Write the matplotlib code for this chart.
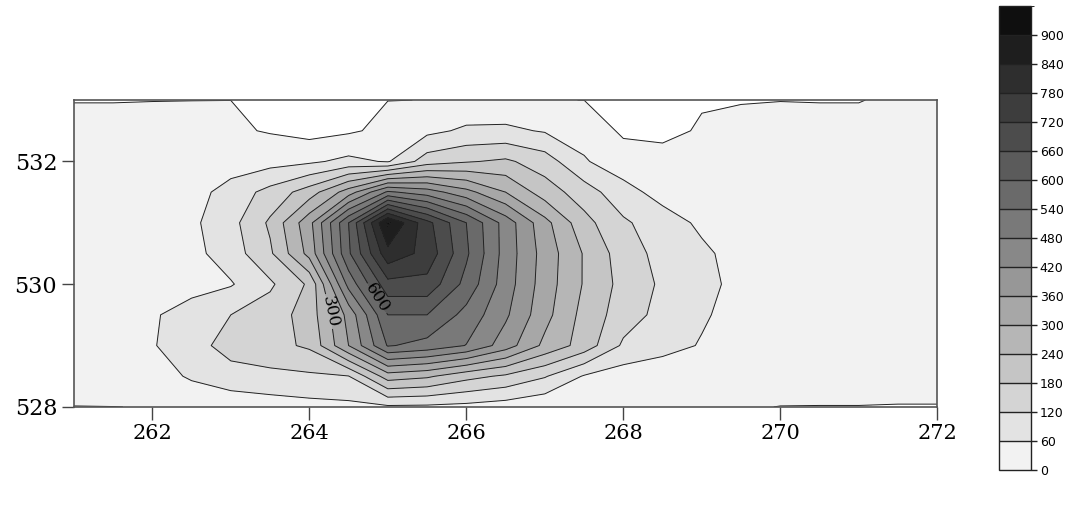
import numpy as np
import matplotlib
matplotlib.use('Agg')
import matplotlib.pyplot as plt
from matplotlib.colors import ListedColormap, BoundaryNorm

# grid (x step 0.5, y step 0.5)
x_vals = [261, 261.5, 262, 262.5, 263, 263.5, 264, 264.5, 265, 265.5, 266, 266.5,
          267, 267.5, 268, 268.5, 269, 269.5, 270, 270.5, 271, 271.5, 272]
y_vals = [528, 528.5, 529, 529.5, 530, 530.5, 531, 531.5, 532, 532.5, 533]

row_528_0 = [-0.1, -0.1, 0.3, 1, 15, 30, 40, 45, 50, 48, 42, 30, 12, 6, 3, 2, 1, 0.5, -0.1, -0.1, -0.1, -0.1, -0.1]
row_528_5 = [3, 8, 25, 70, 100, 105, 110, 118, 270, 250, 200, 170, 125, 55, 30, 15, 8, 5, 3, 2, 2, 1, 1]
row_529_0 = [4, 12, 55, 100, 140, 160, 190, 360, 545, 520, 478, 390, 285, 215, 110, 85, 55, 30, 15, 8, 5, 3, 2]
row_529_5 = [5, 15, 52, 90, 120, 150, 205, 380, 600, 600, 520, 430, 320, 220, 150, 100, 68, 35, 18, 10, 5, 3, 2]
row_530_0 = [3, 6, 14, 35, 55, 110, 190, 500, 700, 700, 580, 450, 330, 235, 160, 110, 75, 45, 22, 12, 6, 4, 2]
row_530_5 = [4, 8, 18, 42, 90, 170, 320, 590, 820, 760, 610, 455, 335, 235, 150, 100, 70, 40, 20, 10, 6, 4, 2]
row_531_0 = [4, 8, 20, 48, 100, 190, 340, 600, 910, 740, 600, 455, 320, 200, 130, 85, 50, 28, 14, 8, 5, 3, 2]
row_531_5 = [3, 6, 12, 35, 85, 140, 210, 330, 490, 450, 380, 300, 210, 150, 80, 40, 25, 12, 6, 4, 3, 2, 1]
row_532_0 = [2, 3, 6, 15, 28, 38, 50, 75, 55, 150, 175, 190, 150, 65, 30, 15, 10, 5, 3, 2, 2, 1, 1]
row_532_5 = [1, 1, 2, 4, 8, -4, -20, -8, 15, 45, 70, 72, 55, 40, -10, -10, 4, 3, 2, 1, 1, 1, 1]
row_533_0 = [-0.1, -0.1, -0.1, -0.1, -0.1, -30, -40, -30, -0.5, 0.3, 15, 15, 0.5, -0.1, -25, -25, -3, -0.5, -0.1, -0.1, -0.1, 0.5, 0.5]

x_ticks = [262, 264, 266, 268, 270, 272]
y_ticks = [528, 530, 532]
levels = list(range(0, 961, 60))
label_levels = [300, 600]
label_spots = [(264.24, 529.55), (264.9, 529.8)]

Z = np.array([row_528_0, row_528_5, row_529_0, row_529_5, row_530_0, row_530_5,
              row_531_0, row_531_5, row_532_0, row_532_5, row_533_0])
X, Y = np.meshgrid(x_vals, y_vals)

greys = np.linspace(0.95, 0.06, len(levels) - 1)
cmap = ListedColormap([(g, g, g) for g in greys])
norm = BoundaryNorm(levels, cmap.N)

fig = plt.figure(figsize=(10.70, 5.08), dpi=100)
ax = fig.add_axes([0.069, 0.199, 0.807, 0.604])
cf = ax.contourf(X, Y, Z, levels=levels, cmap=cmap, norm=norm)
plain_levels = [v for v in levels if v not in label_levels]
ax.contour(X, Y, Z, levels=plain_levels, colors='#222222', linewidths=0.7)
cs_lab = ax.contour(X, Y, Z, levels=label_levels, colors='#222222', linewidths=0.7)
lab = ax.clabel(cs_lab, manual=label_spots, fmt='%d',
                fontsize=12, colors='black', inline=True, inline_spacing=2)
for t in lab:
    t.set_family('DejaVu Serif')

ax.set_xlim(261, 272)
ax.set_ylim(528, 533)
ax.set_xticks(x_ticks)
ax.set_yticks(y_ticks)
ax.tick_params(direction='out', length=9, width=1, color='#444444',
               labelsize=15, pad=3)
ax.tick_params(axis='y', labelsize=16)
for lbl in ax.get_xticklabels() + ax.get_yticklabels():
    lbl.set_family('DejaVu Serif')
for sp in ax.spines.values():
    sp.set_color('#555555')
    sp.set_linewidth(1.2)

# colorbar
cax = fig.add_axes([0.934, 0.075, 0.030, 0.913])
cb = fig.colorbar(cf, cax=cax, ticks=levels[:-1], drawedges=True)
cb.outline.set_edgecolor('#222222')
cb.outline.set_linewidth(1)
cb.dividers.set_color('#222222')
cb.dividers.set_linewidth(1)
cax.tick_params(length=4, width=1, labelsize=9, pad=2, color='#222222')
cax.set_yticklabels([str(v) for v in levels[:-1]])

fig.savefig('out.png', dpi=100, facecolor='white')
